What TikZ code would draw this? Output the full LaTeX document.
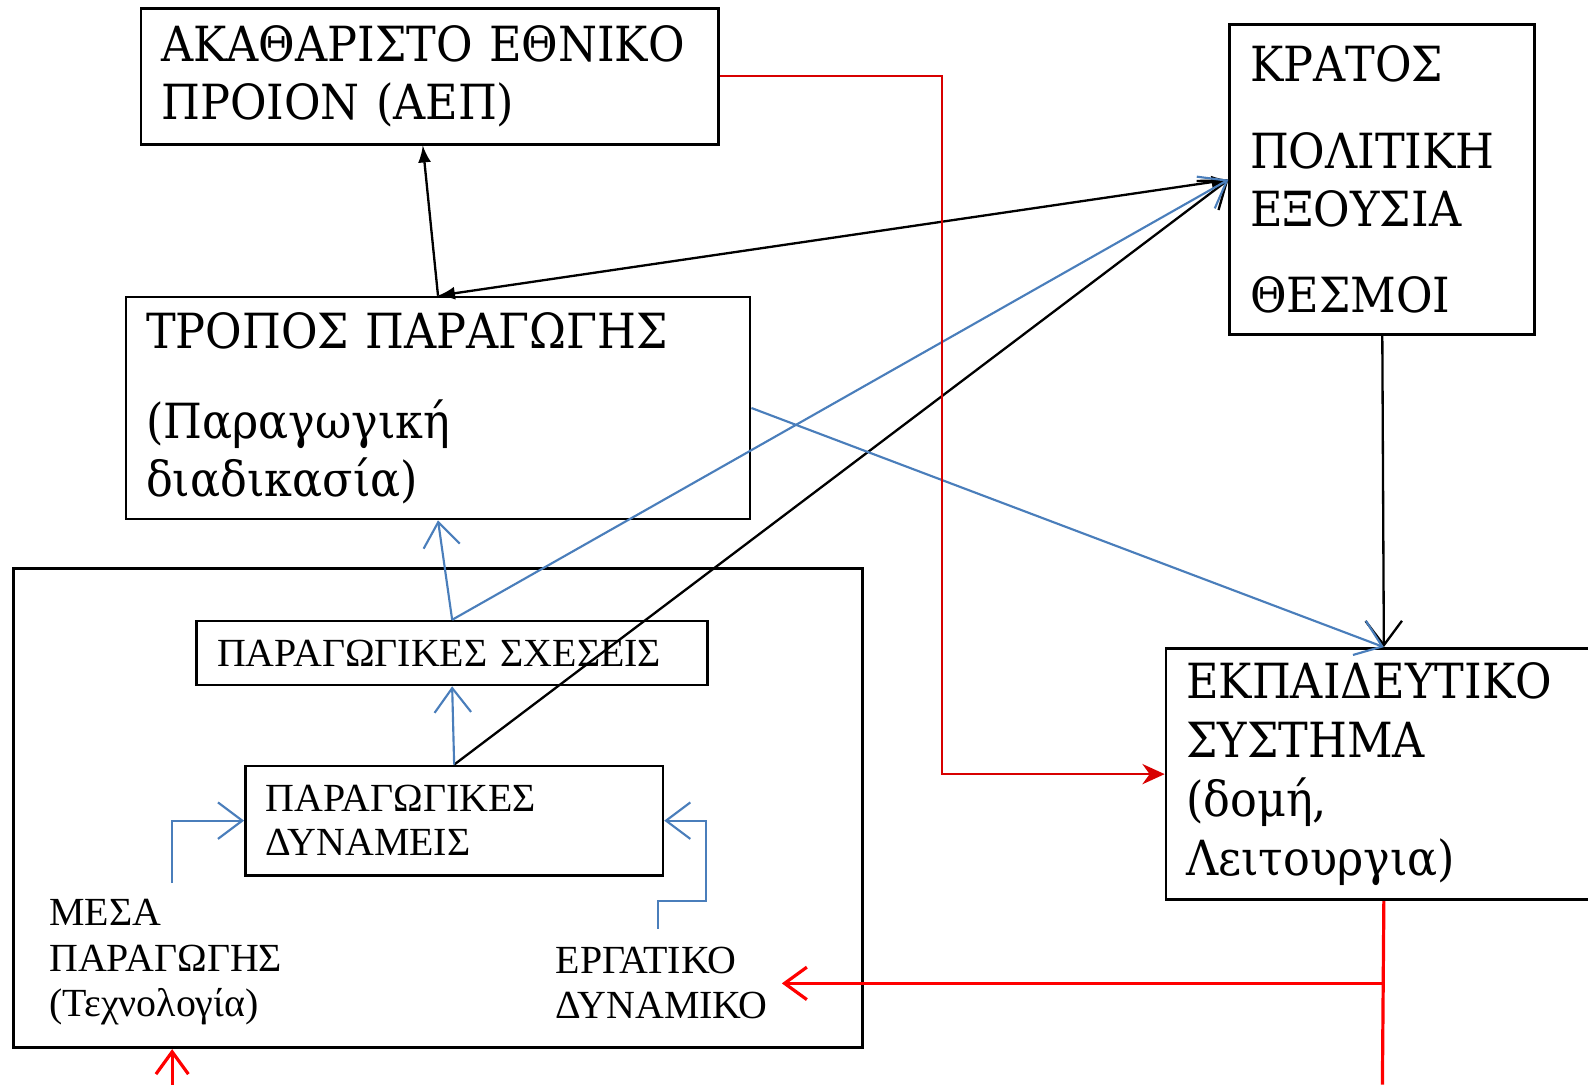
\documentclass[tikz,border=0pt]{standalone}
\usepackage{fontspec}
\setmainfont[FakeStretch=0.92]{DejaVu Serif}
\newfontfamily\smallgr{Liberation Serif}
\usetikzlibrary{arrows.meta}
\definecolor{lineblue}{HTML}{4A7EBB}
\definecolor{linered}{HTML}{FF0000}
\definecolor{routered}{HTML}{D80000}

\begin{document}
\begin{tikzpicture}[x=0.01cm,y=-0.01cm]
      \tikzset{>=latex,
        box/.style={draw=black,line width=0.75pt,anchor=north west,align=left,
          inner xsep=0.2cm,inner ysep=0pt,font=\fontsize{13.6}{16.3}\selectfont},
        smallbox/.style={box,font=\smallgr\fontsize{11.2}{12.4}\selectfont},
        label/.style={anchor=west,align=left,inner sep=0pt,font=\smallgr\fontsize{11.2}{12.7}\selectfont},
        blk/.style={line width=0.65pt,draw=black},
        blu/.style={line width=0.6pt,draw=lineblue,-{Straight Barb[length=2.4mm,width=3.6mm]}},
        red/.style={line width=0.9pt,draw=linered}}
      \useasboundingbox (0,0) rectangle (1568,1071);

      \node[box,text width=5.3cm,minimum height=1.34cm](aep) at (138,7)
        {ΑΚΑΘΑΡΙΣΤΟ ΕΘΝΙΚΟ\\ΠΡΟΙΟΝ (ΑΕΠ)};
      \node[box,text width=2.61cm,minimum height=3.06cm](kratos) at (1213,23)
        {ΚΡΑΤΟΣ\\[8pt]ΠΟΛΙΤΙΚΗ\\ΕΞΟΥΣΙΑ\\[8pt]ΘΕΣΜΟΙ};
      \node[box,text width=5.76cm,minimum height=2.19cm](tropos) at (123,292)
        {ΤΡΟΠΟΣ ΠΑΡΑΓΩΓΗΣ\\[9pt](Παραγωγική\\διαδικασία)};
      \node[box,text width=3.9cm,minimum height=2.48cm,
        font=\fontsize{13.6}{16.5}\selectfont](ekp) at (1150,639)
        {ΕΚΠΑΙΔΕΥΤΙΚΟ\\ΣΥΣΤΗΜΑ\\(δομή,\\Λειτουργια)};
      \node[draw=black,line width=0.75pt,anchor=north west,minimum width=8.38cm,
        minimum height=4.73cm,inner sep=0pt](outer) at (12,560) {};
      \node[smallbox,text width=4.64cm,minimum height=0.63cm](sxeseis) at (193,612)
        {ΠΑΡΑΓΩΓΙΚΕΣ ΣΧΕΣΕΙΣ};
      \node[smallbox,text width=3.72cm,minimum height=1.08cm](dyn) at (241,755)
        {ΠΑΡΑΓΩΓΙΚΕΣ\\ΔΥΝΑΜΕΙΣ};
      \node[label](mesa) at (48,950) {ΜΕΣΑ\\ΠΑΡΑΓΩΓΗΣ\\(Τεχνολογία)};
      \node[label](ergatiko) at (548,971) {ΕΡΓΑΤΙΚΟ\\ΔΥΝΑΜΙΚΟ};

      \coordinate (redturn) at (930,400);
      \coordinate (redjoin) at (1365,971);
      \coordinate (redend) at (1365,1071);
      \coordinate (ergtip) at (772,971);
      \coordinate (techlow) at (170,1071);
      \coordinate (mesaup) at (170,872);
      \coordinate (ergup) at (650,917);
      \coordinate (ergbend) at (697,890);

      % black links
      \draw [blk,-latex] (tropos.north) -- ([xshift=-0.07cm]aep.south);
      \draw [blk,latex-latex] (tropos.north) -- (kratos.west);
      \draw [blk,-{Straight Barb[length=2.4mm,width=3.6mm]}] (dyn.north) -- (kratos.west);
      \draw [blk,-{Straight Barb[length=2.4mm,width=3.6mm]}] (kratos.south) -- (ekp.north);

      % blue links
      \draw [blu] (sxeseis.north) -- (tropos.south);
      \draw [blu] (sxeseis.north) -- (kratos.west);
      \draw [blu] (dyn.north) -- (sxeseis.south);
      \draw [blu] (tropos.east) -- (ekp.north);
      \draw [blu] (mesaup) |- (dyn.west);
      \draw [blu] (ergup) |- (ergbend) |- (dyn.east);

      % red links
      \draw [line width=0.6pt,draw=routered,-{Stealth[length=2.2mm,width=2mm]}]
        (aep.east) -| (redturn) |- (ekp.west);
      \draw [red] (ekp.south) -- (redend);
      \draw [red,-{Straight Barb[length=2.2mm,width=3.2mm]}] (redjoin) -- (ergtip);
      \draw [red,-{Straight Barb[length=2.2mm,width=3.2mm]}] (techlow) -- (outer.south -| techlow);
\end{tikzpicture}
\end{document}
